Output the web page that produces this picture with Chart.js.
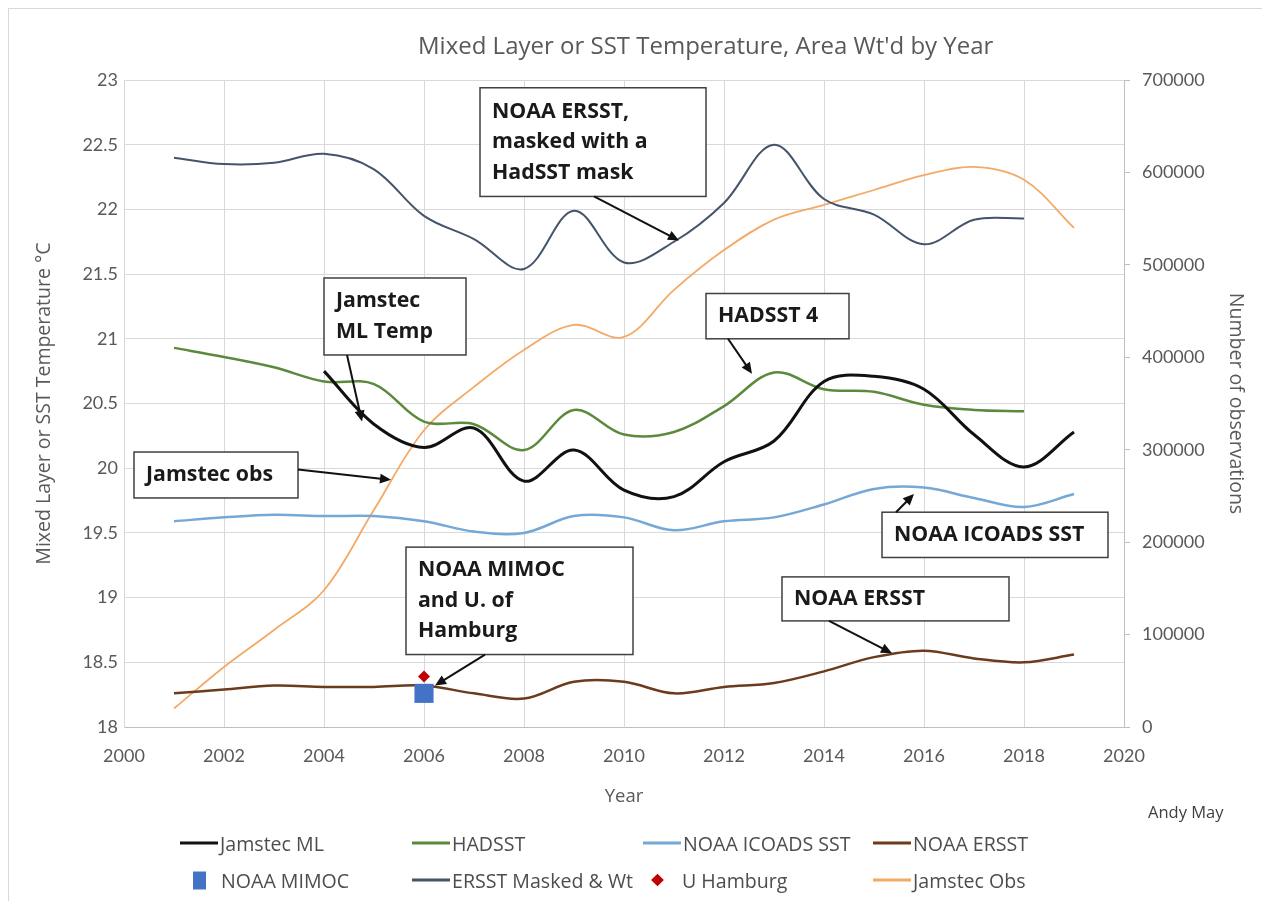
<!DOCTYPE html>
<html>
<head>
<meta charset="utf-8">
<title>Mixed Layer or SST Temperature</title>
<script src="https://cdn.jsdelivr.net/npm/chart.js@4.4.0/dist/chart.umd.min.js"></script>
<style>
  html, body { margin: 0; padding: 0; background: #fff; }
  #wrap { position: relative; width: 1262px; height: 901px; overflow: hidden; font-family: "Open Sans", sans-serif; }
  #frame { position: absolute; left: 8px; top: 8px; width: 1300px; height: 950px; border: 1px solid #d9d9d9; }
  #myChart { position: absolute; left: 0; top: 0; }
  #title { position: absolute; left: 418px; top: 28px; font-size: 24px; color: #595959; white-space: nowrap; }
  .item { position: absolute; display: flex; align-items: center; font-size: 19.6px; color: #4d4d4d; white-space: nowrap; transform: translateY(-50%); }
  .sw { display: inline-block; margin-right: 2px; }
  #credit { position: absolute; left: 1148px; top: 800px; font-size: 16.5px; color: #404040; }
</style>
</head>
<body>
<div id="wrap">
  <div id="frame"></div>
  <canvas id="myChart" width="1262" height="901"></canvas>
  <div id="title">Mixed Layer or SST Temperature, Area Wt'd by Year</div>
  <div id="legend"></div>
  <div id="credit">Andy May</div>
</div>
<script>
// values, one per year 2001..2019 (null = no value)
const years = [2001,2002,2003,2004,2005,2006,2007,2008,2009,2010,2011,2012,2013,2014,2015,2016,2017,2018,2019]
const jamstecML   = [null,null,null,20.75,20.34,20.16,20.31,19.90,20.14,19.83,19.78,20.05,20.21,20.67,20.71,20.61,20.26,20.01,20.28]
const hadsst      = [20.93,20.86,20.78,20.67,20.65,20.36,20.34,20.14,20.45,20.26,20.28,20.48,20.74,20.61,20.59,20.49,20.45,20.44,null]
const icoadsSST   = [19.59,19.62,19.64,19.63,19.63,19.59,19.51,19.50,19.63,19.62,19.52,19.59,19.62,19.72,19.84,19.85,19.77,19.70,19.80]
const noaaERSST   = [18.26,18.29,18.32,18.31,18.31,18.32,18.26,18.22,18.35,18.35,18.26,18.31,18.34,18.43,18.54,18.59,18.53,18.50,18.56]
const ersstMasked = [22.40,22.35,22.36,22.43,22.31,21.95,21.77,21.54,21.99,21.59,21.75,22.05,22.50,22.08,21.96,21.73,21.92,21.93,null]
const jamstecObs  = [20000,65000,105000,148000,235000,321000,368000,408000,435000,422000,473000,516000,549000,565000,581000,597000,606000,592000,540000]
const mimocYears = [2006]
const mimocTemp  = [18.26]
const hamburgYears = [2006]
const hamburgTemp  = [18.39]

const xTicks = [2000,2002,2004,2006,2008,2010,2012,2014,2016,2018,2020]

function pts(xs, ys){
    const out = []
    xs.forEach((x, i) => { if (ys[i] !== null) out.push({x: x, y: ys[i]}) })
    return out
}

// call-out boxes, placed in data units (x = year, y = left axis)
const notes = [
    {lines: ['NOAA ERSST,', 'masked with a', 'HadSST mask'], box: [2007.12, 22.94, 2011.64, 22.10], arrow: [2009.4, 22.10, 2011.1, 21.76]},
    {lines: ['Jamstec', 'ML Temp'], box: [2004.0, 21.47, 2006.84, 20.875], arrow: [2004.46, 20.875, 2004.76, 20.36]},
    {lines: ['HADSST 4'], box: [2011.64, 21.35, 2014.5, 21.0], arrow: [2012.08, 21.0, 2012.56, 20.73]},
    {lines: ['Jamstec obs'], box: [2000.2, 20.125, 2003.48, 19.77], arrow: [2003.48, 19.99, 2005.34, 19.91]},
    {lines: ['NOAA MIMOC', 'and U. of', 'Hamburg'], box: [2005.64, 19.39, 2010.18, 18.56], arrow: [2007.22, 18.56, 2006.22, 18.32]},
    {lines: ['NOAA ICOADS SST'], box: [2015.16, 19.66, 2019.68, 19.31], arrow: [2015.44, 19.66, 2015.8, 19.80]},
    {lines: ['NOAA ERSST'], box: [2013.16, 19.16, 2017.7, 18.82], arrow: [2014.1, 18.82, 2015.36, 18.57]}
]

const callouts = {
    id: 'callouts',
    afterDatasetsDraw(chart){
        const ctx = chart.ctx
        const sx = chart.scales.x, sy = chart.scales.y
        ctx.save()
        notes.forEach(n => {
            const x0 = sx.getPixelForValue(n.box[0]), y0 = sy.getPixelForValue(n.box[1])
            const x1 = sx.getPixelForValue(n.box[2]), y1 = sy.getPixelForValue(n.box[3])
            ctx.fillStyle = '#fff'
            ctx.fillRect(x0, y0, x1 - x0, y1 - y0)
            ctx.strokeStyle = '#404040'
            ctx.lineWidth = 1.5
            ctx.strokeRect(x0, y0, x1 - x0, y1 - y0)
            ctx.fillStyle = '#1a1a1a'
            ctx.font = 'bold 21.3px "Open Sans"'
            ctx.textBaseline = 'middle'
            ctx.textAlign = 'left'
            const lh = 30.5
            const first = y0 + ((y1 - y0) - (n.lines.length - 1) * lh) / 2
            n.lines.forEach((t, i) => ctx.fillText(t, x0 + 12, first + i * lh))

            // arrow
            const ax = sx.getPixelForValue(n.arrow[0]), ay = sy.getPixelForValue(n.arrow[1])
            const bx = sx.getPixelForValue(n.arrow[2]), by = sy.getPixelForValue(n.arrow[3])
            const ang = Math.atan2(by - ay, bx - ax)
            ctx.strokeStyle = '#111'
            ctx.lineWidth = 2
            ctx.beginPath()
            ctx.moveTo(ax, ay)
            ctx.lineTo(bx - 8 * Math.cos(ang), by - 8 * Math.sin(ang))
            ctx.stroke()
            ctx.fillStyle = '#111'
            ctx.beginPath()
            ctx.moveTo(bx, by)
            ctx.lineTo(bx - 11 * Math.cos(ang) + 5 * Math.sin(ang), by - 11 * Math.sin(ang) - 5 * Math.cos(ang))
            ctx.lineTo(bx - 11 * Math.cos(ang) - 5 * Math.sin(ang), by - 11 * Math.sin(ang) + 5 * Math.cos(ang))
            ctx.closePath()
            ctx.fill()
        })
        ctx.restore()
    }
}

const lineDs = (label, data, color, width, order, axis) => ({
    label: label, data: data, borderColor: color, backgroundColor: color,
    borderWidth: width, pointRadius: 0, tension: 0.35, fill: false,
    yAxisID: axis || 'y', order: order, kind: 'line'
})

const datasets = [
    lineDs('Jamstec ML', pts(years, jamstecML), '#111111', 3, 1),
    lineDs('HADSST', pts(years, hadsst), '#5b8a3c', 2.5, 3),
    lineDs('NOAA ICOADS SST', pts(years, icoadsSST), '#74a8d6', 2.5, 4),
    lineDs('NOAA ERSST', pts(years, noaaERSST), '#6b3b1c', 2.5, 2),
    {label: 'NOAA MIMOC', data: pts(mimocYears, mimocTemp), showLine: false, pointStyle: 'rect',
     pointRadius: 13.5, backgroundColor: '#4472c4', borderColor: '#4472c4', borderWidth: 0, order: 0, kind: 'square'},
    lineDs('ERSST Masked & Wt', pts(years, ersstMasked), '#44546a', 2, 5),
    {label: 'U Hamburg', data: pts(hamburgYears, hamburgTemp), showLine: false, pointStyle: 'rectRot',
     pointRadius: 6, backgroundColor: '#c00000', borderColor: '#c00000', borderWidth: 0, order: 0, kind: 'diamond'},
    lineDs('Jamstec Obs', pts(years, jamstecObs), '#f4a966', 1.8, 6, 'y1')
]

const tickFont = {family: 'Lato', size: 18}
const grey = '#595959'

new Chart(document.getElementById('myChart'), {
    type: 'line',
    data: {datasets: datasets},
    plugins: [callouts],
    options: {
        responsive: false,
        animation: false,
        layout: {padding: {left: 0, right: 0, top: 80, bottom: 84}},
        plugins: {
            legend: {display: false},
            tooltip: {enabled: false}
        },
        scales: {
            x: {
                type: 'linear', min: 2000, max: 2020,
                afterBuildTicks: s => { s.ticks = xTicks.map(v => ({value: v})) },
                ticks: {callback: v => String(v), color: grey, font: tickFont, padding: 18, maxRotation: 0},
                grid: {color: '#d9d9d9', drawTicks: false},
                border: {color: '#bfbfbf'},
                title: {display: true, text: 'Year', color: grey, font: {family: 'Open Sans', size: 18.5}, padding: {bottom: 9}},
                afterFit: s => { s.height = 90 }
            },
            y: {
                position: 'left', min: 18, max: 23,
                ticks: {stepSize: 0.5, callback: v => String(v), color: grey, font: tickFont, padding: 6},
                grid: {color: '#d9d9d9', drawTicks: false},
                border: {color: '#d9d9d9'},
                title: {display: true, text: 'Mixed Layer or SST Temperature °C', color: grey, font: {family: 'Open Sans', size: 19.5}, padding: {top: 33}},
                afterFit: s => { s.width = 124 }
            },
            y1: {
                position: 'right', min: 0, max: 700000,
                ticks: {stepSize: 100000, callback: v => String(v), color: grey, font: tickFont, padding: 12},
                grid: {drawOnChartArea: false, tickLength: 6, color: '#bfbfbf'},
                border: {color: '#bfbfbf'},
                title: {display: true, text: 'Number of observations', color: grey, font: {family: 'Open Sans', size: 19.5}, padding: {top: 15}},
                afterFit: s => { s.width = 138 }
            }
        }
    }
})

// legend laid out in the same grid as the original
const legendSpots = [[180, 843], [412, 843], [643, 843], [873, 843], [193, 880], [412, 880], [652, 880], [873, 880]]
const legend = document.getElementById('legend')
datasets.forEach((d, i) => {
    const item = document.createElement('div')
    item.className = 'item'
    item.style.left = legendSpots[i][0] + 'px'
    item.style.top = legendSpots[i][1] + 'px'
    const sw = document.createElement('span')
    sw.className = 'sw'
    if (d.kind === 'line') {
        sw.style.width = '38px'; sw.style.height = '3px'; sw.style.background = d.borderColor
    } else if (d.kind === 'square') {
        sw.style.width = '13px'; sw.style.height = '18px'; sw.style.background = d.backgroundColor
        sw.style.marginRight = '15px'
    } else {
        sw.style.width = '9px'; sw.style.height = '9px'; sw.style.background = d.backgroundColor
        sw.style.transform = 'rotate(45deg)'; sw.style.marginLeft = '1px'; sw.style.marginRight = '20px'
    }
    item.appendChild(sw)
    item.appendChild(document.createTextNode(d.label))
    legend.appendChild(item)
})
</script>
</body>
</html>
